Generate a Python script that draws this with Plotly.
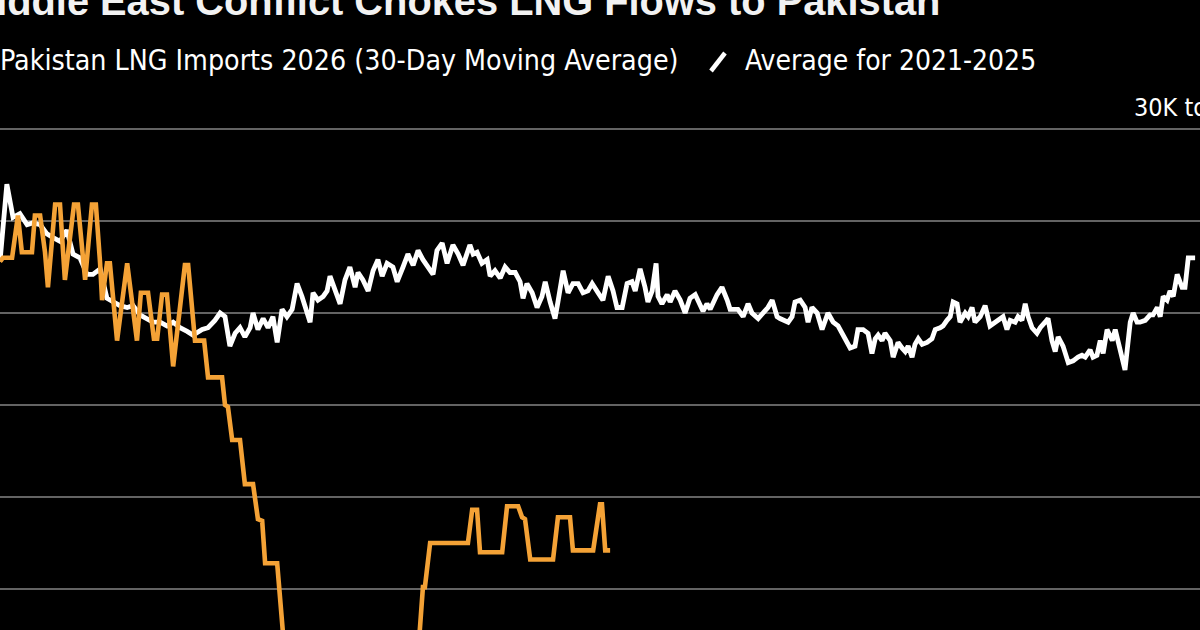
import plotly.graph_objects as go

# ---- data (thousand tons, 30-day moving average) ----
avg_day = [0.0, 2.1, 4.0, 6.1, 8.3, 10.1, 12.3, 14.4, 16.3, 18.4, 20.5, 22.4, 24.5, 26.7, 28.5, 30.7,
           32.8, 34.7, 36.8, 39.0, 40.8, 42.9, 45.1, 46.9, 49.1, 51.2, 53.1, 55.2, 57.4, 59.2, 62.0,
           63.8, 65.9, 67.5, 69.0, 70.5, 72.1, 73.6, 75.1, 76.7, 77.6, 79.1, 80.7, 82.2, 83.7, 85.0,
           86.5, 88.0, 89.6, 91.1, 92.6, 94.2, 95.1, 96.0, 97.5, 99.1, 100.3, 101.2, 102.7, 104.3,
           105.8, 107.3, 108.9, 109.8, 111.3, 112.9, 114.4, 115.9, 117.2, 118.7, 120.5, 121.8, 123.6,
           125.1, 126.7, 128.2, 129.7, 131.3, 132.8, 134.0, 135.6, 137.1, 138.0, 138.9, 140.5, 142.0,
           144.1, 145.1, 146.3, 147.8, 149.4, 150.3, 151.8, 153.4, 154.9, 156.4, 158.0, 159.5, 160.4,
           161.6, 163.2, 164.7, 166.2, 167.2, 168.7, 170.2, 171.1, 172.7, 174.2, 175.7, 177.3, 178.8,
           180.3, 181.6, 183.4, 184.9, 186.5, 188.0, 189.2, 190.8, 192.3, 193.8, 194.8, 196.3, 197.8,
           198.7, 200.0, 201.2, 201.8, 203.0, 204.6, 205.5, 207.0, 208.6, 210.1, 211.6, 213.2, 214.7,
           215.6, 216.8, 217.8, 219.9, 221.4, 223.0, 223.9, 226.3, 227.9, 229.4, 230.6, 232.5, 234.0,
           235.5, 236.8, 238.3, 239.2, 241.7, 242.9, 243.8, 245.4, 246.9, 247.8, 249.0, 250.6, 252.1,
           253.9, 255.5, 257.0, 258.6, 259.8, 260.7, 262.2, 263.1, 264.7, 266.2, 267.4, 268.4, 269.3,
           270.5, 271.4, 273.0, 273.9, 275.4, 276.6, 277.6, 278.5, 279.7, 280.6, 281.6, 282.8, 284.3,
           285.8, 286.8, 288.3, 289.2, 290.4, 291.4, 292.3, 293.5, 294.4, 296.0, 296.9, 298.1, 299.0,
           300.6, 302.1, 303.6, 305.2, 306.1, 307.6, 308.8, 309.8, 311.3, 312.2, 313.4, 314.4, 315.3,
           316.5, 318.0, 319.0, 320.5, 321.4, 322.6, 323.6, 324.5, 326.0, 327.6, 329.1, 330.6, 331.8,
           332.8, 334.3, 335.2, 336.4, 337.4, 338.3, 339.5, 341.1, 342.0, 342.9, 344.1, 345.0, 346.6,
           347.5, 348.7, 349.6, 351.2, 352.7, 353.6, 354.9, 355.8, 356.7, 357.9, 358.8, 359.8, 361.0,
           362.5, 363.4, 364.4, 365.9, 366.5]
avg_kt = [22.8, 27.0, 25.2, 25.4, 24.8, 24.9, 24.8, 24.3, 24.1, 23.9, 24.5, 23.2, 23.0, 22.1, 22.1, 22.4,
          20.8, 20.6, 20.4, 20.3, 20.4, 19.9, 19.7, 19.5, 19.5, 19.3, 19.5, 19.2, 19.0, 18.8, 19.1,
          19.2, 19.6, 20.0, 19.8, 18.2, 18.9, 19.2, 18.7, 19.2, 20.0, 19.1, 19.7, 19.2, 19.8, 18.4,
          20.2, 19.8, 20.2, 21.6, 20.9, 20.0, 19.5, 21.1, 20.7, 20.9, 21.2, 22.0, 21.2, 20.5,
          21.8, 22.5, 21.4, 22.2, 21.8, 21.2, 22.3, 22.9, 22.0, 22.7, 22.5, 21.7, 22.5,
          23.2, 22.6, 23.4, 22.9, 22.5, 22.1, 23.4, 23.8, 22.7, 23.3, 23.7, 23.2, 22.6,
          23.7, 23.2, 23.3, 22.7, 22.9, 22.0, 22.3, 21.9, 22.5, 22.2, 22.2, 21.7, 20.8,
          21.6, 21.1, 20.3, 20.9, 21.7, 20.6, 19.7, 20.6, 22.3, 21.1, 21.6, 21.6, 21.1,
          21.2, 21.6, 21.1, 20.7, 22.0, 21.2, 20.3, 20.3, 21.6, 21.7, 21.2, 22.4, 21.4,
          20.6, 21.2, 22.7, 20.9, 20.5, 21.0, 20.6, 21.2, 20.7, 20.0, 20.8, 21.0, 20.4,
          20.1, 20.5, 20.2, 21.0, 21.4, 20.7, 20.2, 20.2, 19.8, 20.5, 20.0, 19.7, 20.0,
          20.3, 20.7, 19.8, 19.7, 19.5, 19.8, 20.6, 20.7, 20.3, 19.5, 20.3, 20.0, 19.1,
          20.0, 19.5, 19.3, 18.8, 18.5, 18.1, 18.2, 19.1, 19.1, 18.9, 17.8, 18.6, 18.8,
          18.5, 18.9, 18.5, 17.6, 18.4, 18.1, 17.9, 18.2, 17.6, 18.3, 18.6, 18.3, 18.4,
          18.6, 19.1, 19.2, 19.3, 19.6, 19.8, 20.6, 20.5, 19.5, 20.0, 19.8, 20.3, 19.5,
          19.8, 20.4, 19.3, 19.5, 19.6, 19.8, 19.1, 19.6, 19.5, 19.8, 19.6, 20.5, 19.8,
          19.2, 18.9, 19.2, 19.5, 19.7, 18.5, 17.9, 18.7, 18.2, 17.3, 17.4, 17.6, 17.7,
          17.6, 18.0, 17.6, 17.7, 18.5, 17.8, 19.1, 18.5, 19.1, 18.5, 17.6, 16.9, 19.5,
          20.0, 19.5, 19.5, 19.6, 19.9, 19.9, 20.3, 19.8, 20.9, 20.7, 21.2, 20.9, 22.1,
          21.4, 21.4, 23.0, 23.0, 23.0]

imp_day = [0.0, 0.9, 3.7, 5.5, 6.7, 9.8, 10.7, 12.3, 13.8, 14.7, 16.9, 18.4, 19.9, 22.7, 23.9, 26.1,
           28.2, 29.4, 30.7, 31.3, 32.8, 33.7, 35.9, 39.0, 42.0, 43.2, 45.4, 47.2, 48.2, 49.7, 51.2,
           53.1, 56.7, 57.7, 59.8, 62.6, 63.8, 68.1, 69.0, 69.9, 71.2, 73.6, 75.1, 77.6, 79.1, 80.4,
           81.3, 85.0, 88.0, 127.6, 129.7, 130.3, 131.9, 143.5, 144.8, 146.3, 147.2, 154.0, 155.5,
           158.9, 160.1, 161.0, 162.6, 169.6, 171.1, 174.8, 175.7, 181.9, 184.0, 184.6, 185.6, 187.1]
imp_kt = [22.8, 23.0, 23.0, 25.3, 23.3, 23.3, 25.3, 25.3, 23.3, 21.4, 25.9, 25.9, 21.8, 25.9, 25.9, 21.8,
          25.9, 25.9, 22.7, 20.7, 22.7, 22.7, 18.5, 22.7, 18.5, 21.1, 21.1, 18.6, 18.6, 21.0, 21.0,
          17.1, 22.6, 22.6, 18.5, 18.5, 16.5, 16.5, 15.0, 14.9, 13.1, 13.1, 10.7, 10.7, 8.8, 8.7,
          6.4, 6.4, 0.0, 0.0, 5.1, 5.1, 7.5, 7.5, 9.3, 9.3, 7.0, 7.0, 9.5,
          9.5, 8.9, 8.8, 6.6, 6.6, 8.9, 8.9, 7.1, 7.1, 9.6, 9.6, 7.1, 7.1]

grid_vals = [5, 10, 15, 20, 25, 30]

title_text = "Middle East Conflict Chokes LNG Flows to Pakistan"
legend_imp = "Pakistan LNG Imports 2026 (30-Day Moving Average)"
legend_avg = "Average for 2021-2025"
unit_label = "30K tons"

ORANGE = "#F4A236"
W, H = 1200, 630

fig = go.Figure()
fig.add_trace(go.Scatter(x=avg_day, y=avg_kt, mode="lines",
                         line=dict(color="#FFFFFF", width=4.8), name=legend_avg))
fig.add_trace(go.Scatter(x=imp_day, y=imp_kt, mode="lines",
                         line=dict(color=ORANGE, width=4.6), name=legend_imp))

LEG_FONT = "DejaVu Sans Condensed, DejaVu Sans, sans-serif"

fig.update_layout(
    width=W, height=H,
    margin=dict(l=0, r=0, t=0, b=0),
    paper_bgcolor="#000000", plot_bgcolor="#000000",
    showlegend=False,
    xaxis=dict(range=[0, 368.0], showgrid=False, zeroline=False, showticklabels=False,
               ticks="", showline=False),
    yaxis=dict(range=[2.7717, 37.0109], tickvals=grid_vals, showticklabels=False,
               gridcolor="#636363", gridwidth=1.8, zeroline=False, ticks="", showline=False),
    annotations=[
        dict(text="<b>" + title_text + "</b>", xref="paper", yref="paper",
             x=-39 / W, y=1 - 25 / H, xanchor="left", yanchor="bottom", showarrow=False,
             font=dict(family="Liberation Sans, Arial, sans-serif", size=39.8, color="#F2F2F2")),
        dict(text=legend_imp, xref="paper", yref="paper",
             x=-2 / W, y=1 - 61 / H, xanchor="left", yanchor="middle", showarrow=False,
             font=dict(family=LEG_FONT, size=28.3, color="#FFFFFF")),
        dict(text=legend_avg, xref="paper", yref="paper",
             x=743 / W, y=1 - 61 / H, xanchor="left", yanchor="middle", showarrow=False,
             font=dict(family=LEG_FONT, size=28, color="#FFFFFF")),
        dict(text=unit_label, xref="paper", yref="paper",
             x=1132 / W, y=1 - 107 / H, xanchor="left", yanchor="middle", showarrow=False,
             font=dict(family=LEG_FONT, size=25, color="#FFFFFF")),
    ],
    shapes=[
        dict(type="line", xref="paper", yref="paper",
             x0=711 / W, y0=1 - 71 / H, x1=725 / W, y1=1 - 53 / H,
             line=dict(color="#FFFFFF", width=4.5)),
    ],
)

fig.write_html("out.html")
